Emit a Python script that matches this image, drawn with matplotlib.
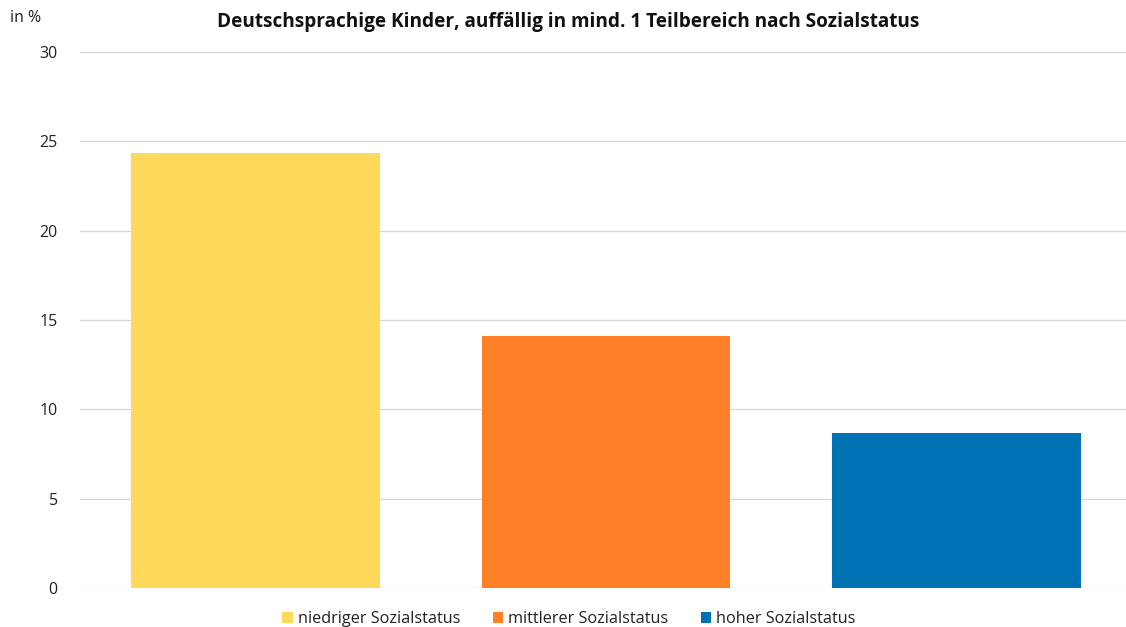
import matplotlib
matplotlib.use("Agg")
import matplotlib.pyplot as plt
from matplotlib.patches import Patch

plt.rcParams['font.family'] = ['Open Sans', 'DejaVu Sans']

categories = ["niedriger Sozialstatus", "mittlerer Sozialstatus", "hoher Sozialstatus"]
values = [24.35, 14.1, 8.7]
colors = ["#FFD95C", "#FF7F27", "#0071B3"]
yticks = [0, 5, 10, 15, 20, 25, 30]
title = "Deutschsprachige Kinder, auffällig in mind. 1 Teilbereich nach Sozialstatus"

W, H = 1126, 627
fig = plt.figure(figsize=(W / 100, H / 100), dpi=100)
ax = fig.add_axes([80 / W, (H - 588) / H, (1126 - 80) / W, (588 - 52) / H])

x = list(range(len(categories)))
ax.bar(x, values, width=0.71, color=colors, zorder=3)
ax.set_xlim(-0.5007, 2.4836)
ax.set_ylim(0, 30)
ax.set_yticks(yticks)
ax.set_yticklabels([str(t) for t in yticks], fontsize=11.5, color="#222222")
ax.set_xticks([])
ax.grid(axis='y', color="#D9D9D9", linewidth=1, zorder=0)
for s in ax.spines.values():
    s.set_visible(False)
ax.tick_params(axis='y', length=0, pad=16)

fig.text(10 / W, 1 - 18 / H, "in %", fontsize=11.5, color="#222222", va='center', ha='left')
fig.text(568 / W, 1 - 22 / H, title, fontsize=13.7, fontweight='bold', color="#111111",
         va='center', ha='center')

handles = [Patch(facecolor=c, edgecolor='none') for c in colors]
fig.legend(handles, categories, loc='center', bbox_to_anchor=(569 / W, 1 - 619 / H),
           ncol=3, frameon=False, fontsize=11.7, handlelength=0.65, handleheight=0.65,
           handletextpad=0.3, columnspacing=2.0, labelcolor="#222222")

fig.savefig("out.png", dpi=100)
